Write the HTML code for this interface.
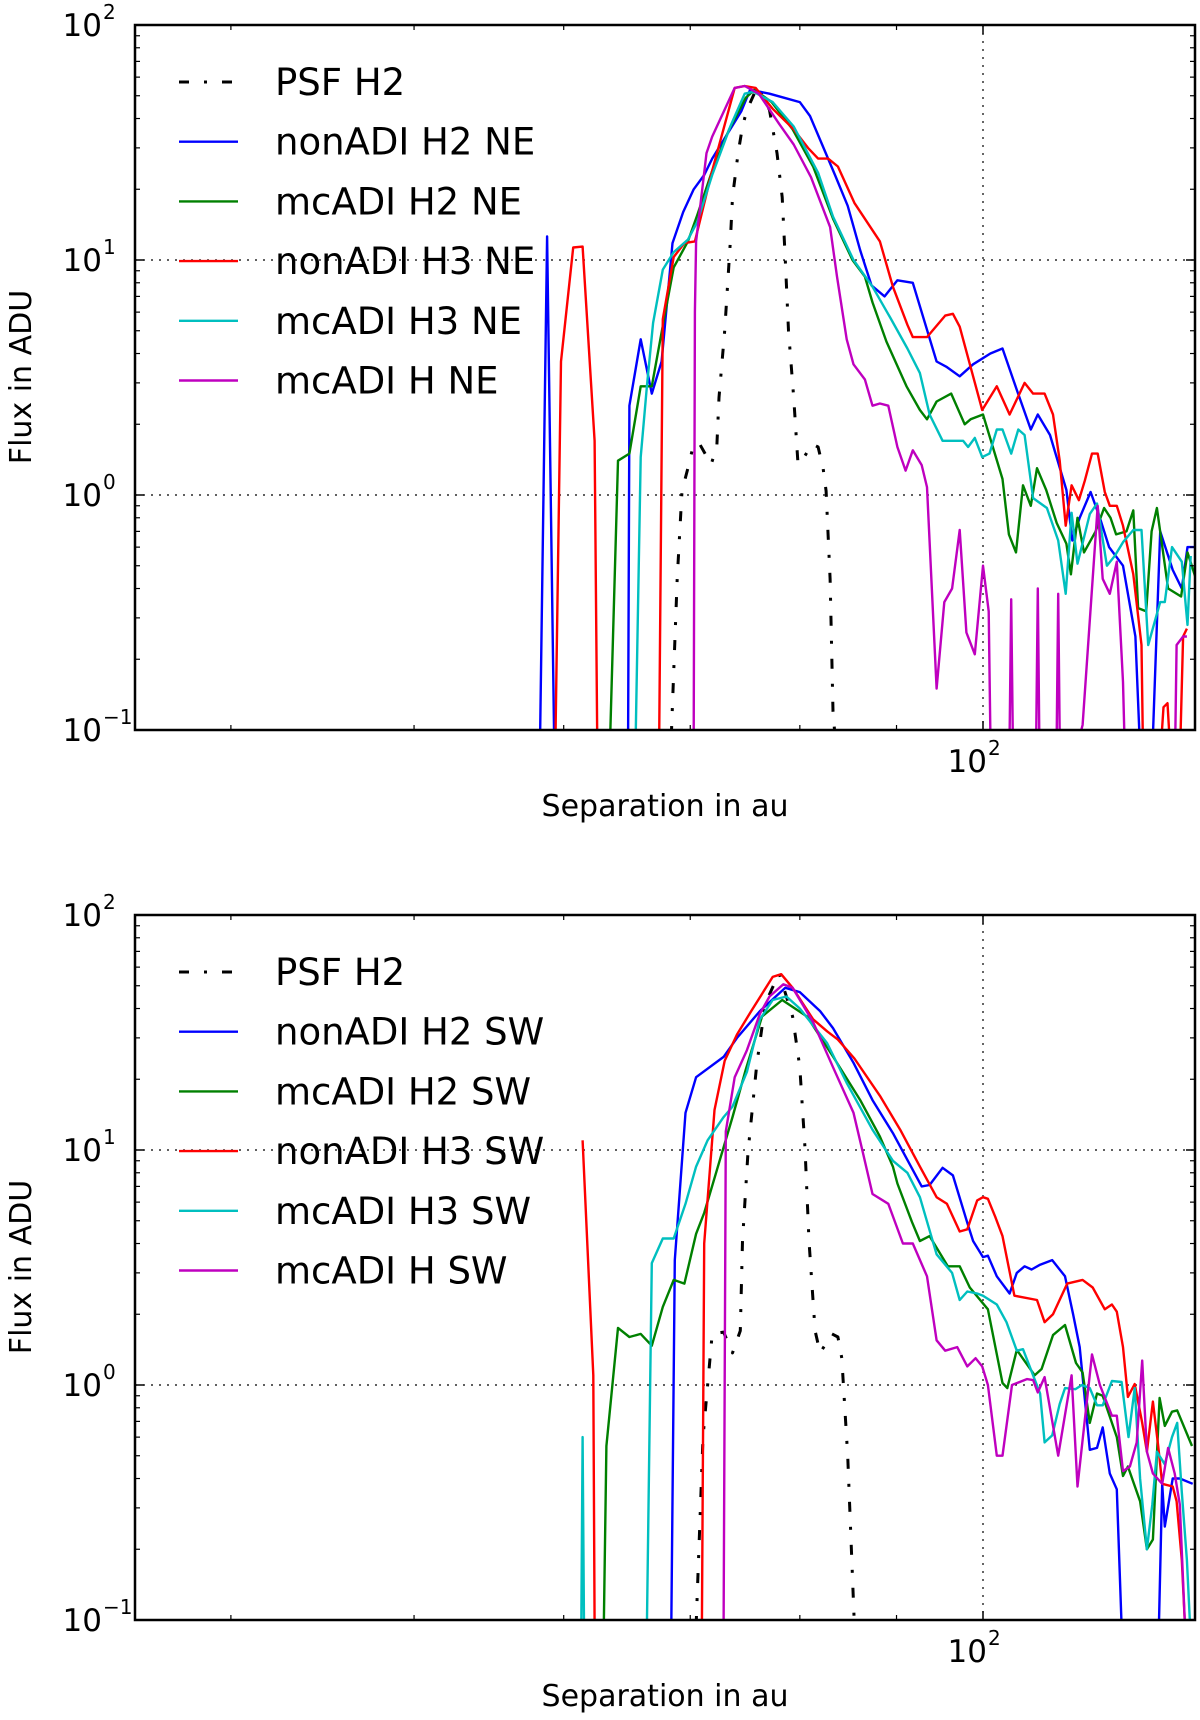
<!DOCTYPE html>
<html><head><meta charset="utf-8"><style>
html,body{margin:0;padding:0;background:#fff;width:1200px;height:1720px;overflow:hidden;}
svg{display:block;font-family:"DejaVu Sans","Liberation Sans",sans-serif;}
</style></head><body>
<svg id="fig" width="1200" height="1720" viewBox="0 0 1200 1720"></svg>
<script>
// ---------- data (separation in au, flux in ADU; 0 = no detection) ----------
const psfNE_x=[68.4,68.9,69.3,69.8,70.3,70.8,71.8,72.3,72.5,73.0,73.5,73.7,74.2,74.6,75,76,77.1,77.8,78.3,78.6,78.9,79.4,79.8,80,81.2,81.8,82.3,82.6,83,83.3,83.5];
const psfNE_y=[0.09,0.44,1.04,1.3,1.65,1.65,1.35,1.6,2.6,5,11.9,18.5,28.5,37,43.5,55,43.5,28.5,18.5,10,5,2.6,1.4,1.35,1.65,1.6,1.3,1.04,0.44,0.12,0.09];
const blueNE_x=[58.3,58.8,59.3,64.9,65.0,65.9,66.8,67.6,68.5,69.4,70.3,71.2,71.9,74.5,75.3,77.1,78.5,80,81,82.2,83.5,84.8,86.1,87.3,88.7,90.1,91.8,94.5,95.7,97.2,98.8,100.9,102.4,104.2,106,106.9,108.5,110.7,111.5,112.5,114,115.3,116.6,118.6,120.4,121,123,124.1,126,127.4,128.3,129.5];
const blueNE_y=[0,12.6,0,0,2.4,4.6,2.7,3.7,11.8,16,20,23,27,43,53,51,49,47,41,31,23,17,11,7.8,7,8.2,8,3.7,3.5,3.2,3.6,4.0,4.2,2.8,1.9,2.2,1.8,1.05,0.64,0.8,1.03,0.8,0.6,0.5,0.25,0,0,0.7,0.48,0.4,0.6,0.6];
const greenNE_x=[63.5,64.1,65.0,65.9,66.8,67.8,68.6,69.8,70.6,71.9,73.4,74.9,75.7,77.3,79.3,81.3,83.3,85.3,86.6,87.4,88.9,91.1,92.6,93.4,94.5,96.2,97.8,98.5,100,102.4,103.2,104.1,105,106,106.8,108,109.4,110.7,111.3,112.2,113.1,114.7,115.9,116.8,117.6,119.1,120.1,120.8,122,122.8,123.6,125.3,127.3,128.3,129.5];
const greenNE_y=[0,1.4,1.5,2.9,2.9,5.6,9.3,12,15.5,24,36,49,53,47,36,25,15,10,8.5,6.6,4.5,2.9,2.3,2.1,2.5,2.7,2.0,2.1,2.2,1.17,0.68,0.57,1.1,0.9,1.3,1.05,0.76,0.62,0.46,0.8,0.57,0.7,0.88,0.8,0.68,0.7,0.86,0.33,0.32,0.7,0.88,0.40,0.37,0.57,0.45];
const redNE_x=[59.4,59.8,60.7,61.4,62.3,62.5,67.4,67.7,68.6,69.5,70.4,70.7,71.9,73.9,74.8,75.8,77.4,79.4,80.8,81.8,82.8,83.8,85.5,88.2,89.6,91.2,91.8,93.4,95.5,96.4,97.2,98.8,99.9,101.7,103.3,105.2,106.3,107.8,108.9,109.8,110.6,111.4,112.4,113.2,114.2,115,116,116.7,117.7,118.6,120.1,121.3,121.5,124.3,124.6,125.2,125.5,127.2,127.6,128.2];
const redNE_y=[0,3.7,11.3,11.4,1.7,0,0,5.6,10.3,11.8,12,13.8,24,54,55,54,44,36,30,27,27,25,17.5,12,7.7,5.3,4.7,4.7,5.8,5.9,5.2,3.2,2.3,2.9,2.2,3.0,2.7,2.7,2.2,1.4,0.74,1.1,0.95,1.15,1.5,1.5,1.03,0.9,0.9,0.74,0.46,0.23,0,0,0.125,0.13,0,0,0.25,0.27];
const cyanNE_x=[65.5,65.9,66.4,66.9,67.7,68.6,69.8,70.6,71.9,73.5,74.8,75.6,77.4,79.4,81.8,83.3,85.4,87.4,89.3,91.2,92.6,93.7,95.2,96.4,97.6,98.2,99,99.9,100.8,101.7,102.4,103.5,104.4,105.2,106.3,108.1,109.6,110.6,111.4,112.2,113.9,114.9,116.3,117.4,118.6,120.1,121.3,122.3,124.1,124.8,125.9,127.4,128.3,128.8];
const cyanNE_y=[0,1.45,2.9,5.4,9.1,10.8,12.2,14.5,23,37,51,52,47,37,23.5,15.3,10,7.7,5.7,4.2,3.3,2.2,1.7,1.7,1.7,1.6,1.75,1.45,1.5,1.9,1.9,1.5,1.9,1.8,0.97,0.88,0.64,0.38,0.84,0.51,0.83,0.92,0.5,0.55,0.63,0.71,0.71,0.23,0.35,0.35,0.6,0.52,0.28,0.55];
const magNE_x=[70.3,70.4,70.5,71.4,71.9,73.9,74.8,76.1,78,79.4,81.1,83,83.7,84.7,85.4,86.6,87.4,88.2,89.1,90.1,91,91.8,92.8,93.4,94.5,95.4,96.3,97.2,98,99,100,100.7,100.9,103.3,103.5,103.7,106.7,106.9,107.1,109.4,109.6,109.8,112.5,112.9,115,115.7,116.7,117.7,118.6,118.8,126.4,126.6,127.6,128.2];
const magNE_y=[0,6,12,28.5,33.5,54,55,51,38,31,22.5,13.8,8.5,4.6,3.6,3.1,2.4,2.45,2.4,1.6,1.27,1.55,1.34,1.08,0.15,0.35,0.40,0.71,0.26,0.21,0.5,0.32,0,0,0.36,0,0,0.4,0,0,0.38,0,0,0.105,0.9,0.44,0.38,0.52,0.16,0,0,0.23,0.25,0.25];

const psfSW_x=[70.5,71.1,71.9,72.9,73.7,74.4,74.6,75.1,75.9,76.7,78,79.3,80,80.5,80.9,81.5,82,83.2,83.8,84.2,84.8,85.5];
const psfSW_y=[0.09,0.6,1.65,1.68,1.37,1.7,4.1,9.8,23,42,56.6,37,22.5,10.2,4.1,1.7,1.37,1.65,1.6,1.3,0.5,0.09];
const blueSW_x=[68.4,68.7,69.6,70.5,72.9,74.1,76.2,78.6,80,82,83.3,85.4,87.4,89.6,92.8,93.7,95.2,96.4,98.1,98.8,100,100.6,101.7,103.3,104.2,105.2,106.1,107.2,108.8,110.5,111.6,112.5,113.9,114.9,115.7,116.7,117.7,118.4,123.9,124.4,124.8,126,127.1,129.1];
const blueSW_y=[0,3.4,14.4,20.4,24.9,30,39,49,47,39,33,23.5,16.3,11.8,7,7.1,8.4,7.8,4.9,4.1,3.5,3.55,2.9,2.45,3.0,3.2,3.1,3.25,3.4,2.9,2.0,1.45,0.53,0.54,0.66,0.42,0.36,0,0,0.38,0.25,0.4,0.4,0.38];
const greenSW_x=[63.0,63.2,64.1,65,65.9,66.8,67.7,68.6,69.5,70.5,71.2,72.3,73.7,74.9,76.4,78.3,80.7,83.3,86.1,88.2,89.6,90.1,91.7,92.6,93.7,95.8,97.2,98.4,100.6,102.4,103,104.2,106.5,107.4,108.9,110.5,112,112.9,113.9,114.9,115.7,117.7,118.6,119.3,121.1,122.1,123,124,124.8,125.9,126.7,129];
const greenSW_y=[0,0.55,1.75,1.6,1.65,1.47,2.15,2.8,2.7,4.4,5.4,8.2,13.8,22,37,43.5,37,25,16.3,11.4,8.5,7.2,4.95,4.1,4.3,3.2,3.2,2.6,2.1,1.02,0.97,1.41,1.1,1.17,1.63,1.8,1.24,1.13,0.69,0.92,0.9,0.6,0.41,0.45,0.32,0.2,0.22,0.88,0.67,0.77,0.78,0.55];
const redSW_x=[61.4,62.2,62.3,71.0,71.2,72.1,73,74.1,75.4,77.4,78.2,79.3,81.3,82.7,83.8,85.5,88.2,90.4,92.6,94.5,95.7,97.2,98.1,99.3,100,100.6,101.5,102.4,103.9,106.8,107.8,108.9,110.8,112.9,114.3,116,117,117.7,118.6,119.3,120.3,121.4,122.1,123,123.8,124.4,126,126.6,127.4,127.9];
const redSW_y=[11,1.1,0,0,4.0,14.8,24,31,39,54.5,56,49,36,32,29.5,24.5,17,12.2,8.5,6.3,5.9,4.5,4.6,6.1,6.3,6.2,5.2,4.3,2.4,2.3,1.85,2.0,2.7,2.8,2.6,2.1,2.2,2.05,1.45,0.89,1.01,0.69,0.52,0.85,0.55,0.38,0.37,0.32,0.18,0];
const cyanSW_x=[61.3,61.4,61.5,66.4,66.8,67.7,68.6,69.6,70.5,71.5,72.9,73.7,75,76.2,77.4,78.7,80,82.7,84.7,87.4,89.6,91.2,92.6,94.5,96.3,97.2,98.1,99.3,100,101.7,102.9,104.2,105,106.3,107.2,107.8,108.8,109.8,110.5,111.9,112.8,113.9,114.9,115.7,117,118.4,119.4,120.3,121.1,122.1,122.9,123.6,124.8,125.9,126.7,127.4,128.2,128.7];
const cyanSW_y=[0,0.6,0,0,3.3,4.2,4.2,5.9,8.5,11,13.8,15.3,21.5,36,43.5,45,40,28.5,19.3,12.2,9,8,6.3,3.6,3,2.3,2.5,2.45,2.4,2.2,1.85,1.4,1.42,1.1,0.92,0.57,0.61,0.83,0.97,0.96,1.0,0.97,0.82,0.82,1.04,1.03,0.6,0.97,0.4,0.2,0.31,0.52,0.46,0.6,0.69,0.35,0.18,0];
const magSW_x=[72.9,73.1,73.9,75,76.2,77.1,78.4,79.3,81.3,83.3,85.4,86.4,87.4,89.1,90.7,91.8,93.4,94.5,95.5,96.9,98.1,99.1,99.9,100.6,101.7,102.4,103.6,105.5,106.3,106.9,107.8,109.6,111.4,112.2,114.2,115.3,117,117.7,118.6,119.6,120.6,121.4,122.1,123,124.4,125.3,126.3,127.1,127.9];
const magSW_y=[0,12,20.4,26.6,38,45,50.7,49,35,22.5,14.4,9.7,6.5,5.9,4.0,4.0,2.9,1.55,1.4,1.45,1.2,1.3,1.2,1.0,0.5,0.5,1.0,1.06,1.05,0.93,1.08,0.5,1.1,0.37,1.35,1.0,0.74,0.74,0.43,0.45,0.57,1.27,0.52,0.42,0.38,0.54,0.42,0.31,0];

const yTickExp=[2,1,0,-1];
const xMinorTicks=[40,50,60,70,80,90];
const legendNE=["PSF H2","nonADI H2 NE","mcADI H2 NE","nonADI H3 NE","mcADI H3 NE","mcADI H NE"];
const legendSW=["PSF H2","nonADI H2 SW","mcADI H2 SW","nonADI H3 SW","mcADI H3 SW","mcADI H SW"];

// ---------- drawing ----------
const NS="http://www.w3.org/2000/svg";
const svg=document.getElementById('fig');
const L=135,R=1195,XD=1890;
function xs(v){return 983+XD*Math.log10(v/100);}
function mk(tag,attrs,parent){const e=document.createElementNS(NS,tag);for(const k in attrs)e.setAttribute(k,attrs[k]);(parent||svg).appendChild(e);return e;}
const colors=["#000","#0000ff","#008000","#ff0000","#00bfbf","#bf00bf"];

function panel(top,id,series,labels){
  const bot=top+705;
  function ys(f){const v=f>0?f:1e-3;return Math.min(top+235*(2-Math.log10(v)),bot+6);}
  const g=mk('g',{});
  
  
  const cp=mk('clipPath',{id:'clip-'+id},g);
  mk('rect',{x:L,y:top,width:R-L,height:bot-top},cp);
  [1,0].forEach(e=>{const l=mk('line',{x1:L,x2:R,y1:ys(Math.pow(10,e)),y2:ys(Math.pow(10,e)),stroke:'#000','stroke-width':1.2,'stroke-dasharray':'2 6'},g);
    });
  const gx=mk('line',{x1:xs(100),x2:xs(100),y1:top,y2:bot,stroke:'#000','stroke-width':1.2,'stroke-dasharray':'2 6'},g);
  
  const sg=mk('g',{'clip-path':'url(#clip-'+id+')'},g);
  series.forEach((s,i)=>{
    const d=s[0].map((x,j)=>(j?'L':'M')+xs(x).toFixed(1)+' '+ys(s[1][j]).toFixed(1)).join(' ');
    const p=mk('path',{d:d,fill:'none',stroke:colors[i],'stroke-width':i?2.4:3,'stroke-linejoin':'round'},sg);
    if(!i)p.setAttribute('stroke-dasharray','10 15 3 15');
    
    
  });
  const fr=mk('rect',{x:L,y:top,width:R-L,height:bot-top,fill:'none',stroke:'#000','stroke-width':2.5},g);
  
  yTickExp.forEach(e=>{
    const y=ys(Math.pow(10,e));
    mk('line',{x1:L,x2:L+9,y1:y,y2:y,stroke:'#000','stroke-width':1.5},g);
    mk('line',{x1:R,x2:R-9,y1:y,y2:y,stroke:'#000','stroke-width':1.5},g);
    if(e>-1)for(let m=2;m<=9;m++){const yy=ys(m*Math.pow(10,e-1));
      mk('line',{x1:L,x2:L+5,y1:yy,y2:yy,stroke:'#000','stroke-width':1.2},g);
      mk('line',{x1:R,x2:R-5,y1:yy,y2:yy,stroke:'#000','stroke-width':1.2},g);}
    const t=mk('text',{x:102,y:y+11,'text-anchor':'end','font-size':31},g);
    t.textContent='10';
    
    const s=mk('text',{x:103,y:y-6,'font-size':20},g);s.textContent=e<0?'\u2212'+Math.abs(e):String(e);
  });
  xMinorTicks.forEach(v=>{const x=xs(v);
    mk('line',{x1:x,x2:x,y1:bot,y2:bot-5,stroke:'#000','stroke-width':1.2},g);
    mk('line',{x1:x,x2:x,y1:top,y2:top+5,stroke:'#000','stroke-width':1.2},g);});
  const x100=xs(100);
  mk('line',{x1:x100,x2:x100,y1:bot,y2:bot-9,stroke:'#000','stroke-width':1.5},g);
  mk('line',{x1:x100,x2:x100,y1:top,y2:top+9,stroke:'#000','stroke-width':1.5},g);
  const xt=mk('text',{x:x100+4,y:bot+42,'text-anchor':'end','font-size':31},g);xt.textContent='10';
  
  const xs2=mk('text',{x:x100+5,y:bot+25,'font-size':20},g);xs2.textContent='2';
  const xl=mk('text',{x:665,y:bot+86,'text-anchor':'middle','font-size':30},g);xl.textContent='Separation in au';
  
  const yl=mk('text',{x:0,y:0,'text-anchor':'middle','font-size':30,transform:'translate(31,'+(top+352)+') rotate(-90)'},g);yl.textContent='Flux in ADU';
  
  labels.forEach((lab,i)=>{
    const y=top+57+i*59.7;
    const lg=mk('g',{},g);
    
    
    const ln=mk('line',{x1:179,x2:238,y1:y,y2:y,stroke:colors[i],'stroke-width':i?2.4:3},lg);
    if(!i)ln.setAttribute('stroke-dasharray','10 15 3 15');
    const t=mk('text',{x:275,y:y+13,'font-size':37},lg);t.textContent=lab;
  });
}
panel(25,'ne',[[psfNE_x,psfNE_y],[blueNE_x,blueNE_y],[greenNE_x,greenNE_y],[redNE_x,redNE_y],[cyanNE_x,cyanNE_y],[magNE_x,magNE_y]],legendNE);
panel(915,'sw',[[psfSW_x,psfSW_y],[blueSW_x,blueSW_y],[greenSW_x,greenSW_y],[redSW_x,redSW_y],[cyanSW_x,cyanSW_y],[magSW_x,magSW_y]],legendSW);
</script>
</body></html>
